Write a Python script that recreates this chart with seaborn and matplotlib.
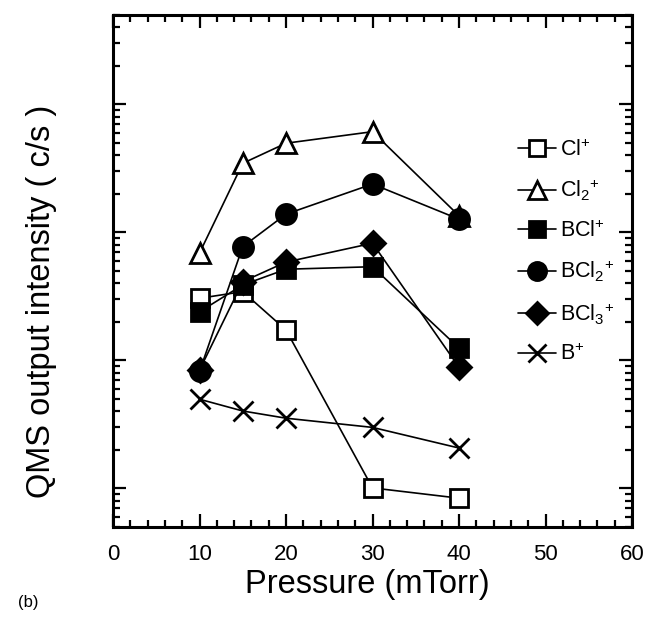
import numpy as np
import pandas as pd
import matplotlib
matplotlib.use("Agg")
import matplotlib.pyplot as plt
import seaborn as sns

# ---- data ----
pressure = [10, 15, 20, 30, 40]
cl_plus   = [30.6, 34.5, 17.3, 1.01, 0.84]
cl2_plus  = [69, 347, 498, 613, 135]
bcl_plus  = [24, 38.9, 51.6, 54, 12.5]
bcl2_plus = [8.2, 77.5, 139, 239, 127]
bcl3_plus = [8.4, 41.3, 58.7, 82.4, 8.85]
b_plus    = [4.98, 4.03, 3.54, 3.0, 2.07]

labels = [r"Cl$^{+}$", r"Cl$_{2}$$^{+}$", r"BCl$^{+}$", r"BCl$_{2}$$^{+}$", r"BCl$_{3}$$^{+}$", r"B$^{+}$"]
series = [cl_plus, cl2_plus, bcl_plus, bcl2_plus, bcl3_plus, b_plus]
markers = ["s", "^", "s", "o", "D", "x"]
facecolors = ["white", "white", "black", "black", "black", "black"]
msizes = [13, 15, 13, 14.5, 12.5, 15]

sns.set_theme(style="white")
plt.rcParams["font.family"] = ["Liberation Sans", "DejaVu Sans"]
plt.rcParams["mathtext.fontset"] = "custom"
plt.rcParams["mathtext.rm"] = "Liberation Sans"
plt.rcParams["mathtext.it"] = "Liberation Sans"
plt.rcParams["mathtext.default"] = "regular"
plt.rcParams["text.color"] = "black"
plt.rcParams["axes.labelcolor"] = "black"
plt.rcParams["xtick.color"] = "black"
plt.rcParams["ytick.color"] = "black"

fig = plt.figure(figsize=(6.52, 6.17), dpi=100)
ax = fig.add_axes([113/652, 1-527/617, (632-113)/652, (527-15)/617])

for lab, vals, m, fc, ms in zip(labels, series, markers, facecolors, msizes):
    df = pd.DataFrame({"p": pressure, "v": vals})
    sns.lineplot(data=df, x="p", y="v", ax=ax, color="black", linewidth=1.2,
                 marker=m, markersize=ms, markerfacecolor=fc,
                 markeredgecolor="black", markeredgewidth=2.0, label=lab)

ax.set_yscale("log")
ax.set_xlim(0, 60)
ax.set_ylim(0.5, 5000)
ax.set_xticks(np.arange(0, 61, 10))
ax.set_xticks(np.arange(0, 61, 2), minor=True)
ax.yaxis.set_major_locator(matplotlib.ticker.LogLocator(base=10, numticks=10))
ax.yaxis.set_minor_locator(matplotlib.ticker.LogLocator(base=10, subs=np.arange(2, 10), numticks=20))
ax.yaxis.set_major_formatter(matplotlib.ticker.NullFormatter())
ax.yaxis.set_minor_formatter(matplotlib.ticker.NullFormatter())

ax.tick_params(which="both", direction="in", top=True, right=True, bottom=True, left=True,
               color="black", width=1.6)
ax.tick_params(which="major", length=9.5)
ax.tick_params(which="minor", length=4.8)
ax.tick_params(axis="x", which="major", labelsize=16, pad=12)
for s in ax.spines.values():
    s.set_linewidth(2.2)
    s.set_color("black")

ax.set_xlabel("Pressure (mTorr)", fontsize=23.5)
ax.set_ylabel("QMS output intensity ( c/s )", fontsize=23.5)
ax.xaxis.set_label_coords(0.49, -0.083)
ax.yaxis.set_label_coords(-0.108, 0.44)

leg = ax.legend(loc="upper left", bbox_to_anchor=(0.743, 0.795), frameon=False,
                fontsize=15.5, handlelength=1.75, handletextpad=0.22,
                labelspacing=0.8, markerscale=0.9)

fig.text(18/652, 1-603/617, "(b)", fontsize=12, va="center", ha="left")

fig.savefig("out.png", dpi=100)
